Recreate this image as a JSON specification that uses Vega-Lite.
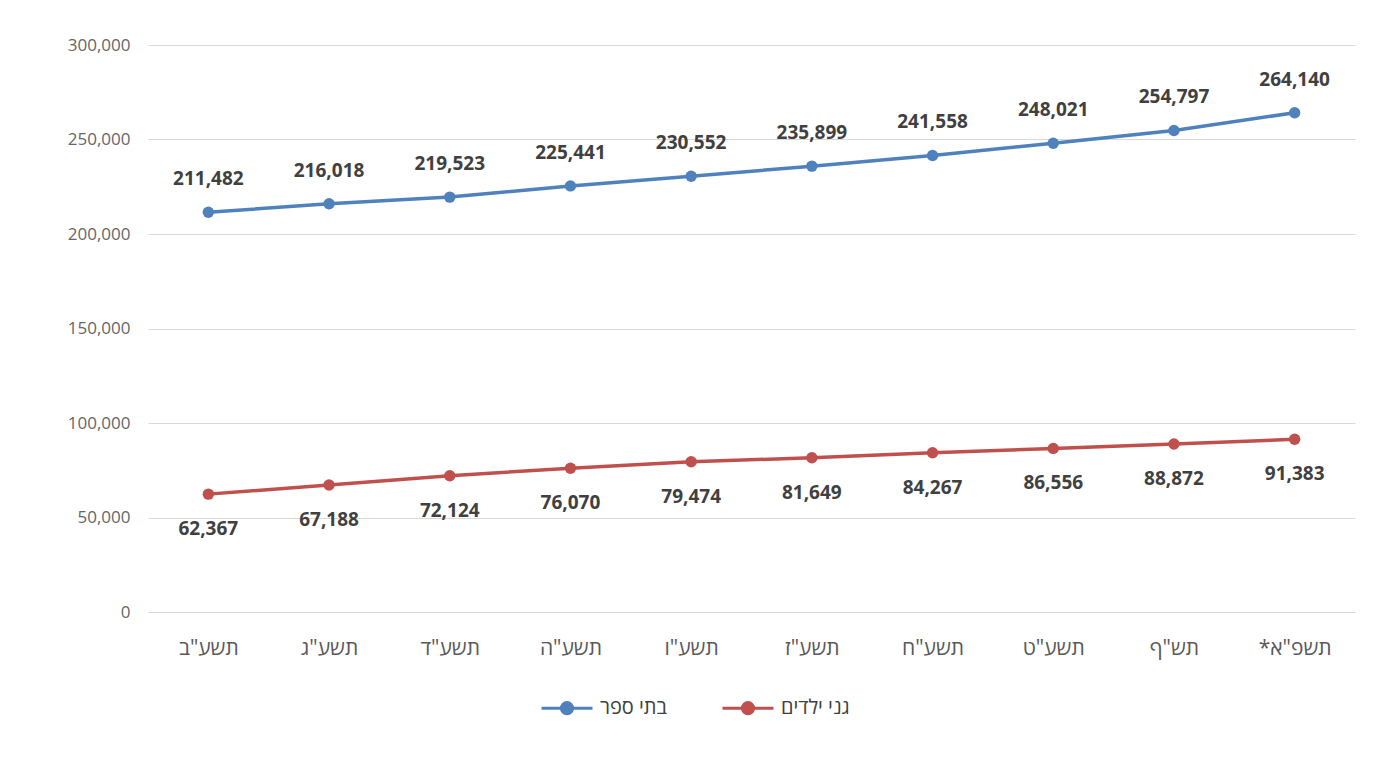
{
  "$schema": "https://vega.github.io/schema/vega-lite/v6.json",
  "width": 1207,
  "height": 567,
  "autosize": {"type": "none"},
  "padding": {"left": 148, "top": 45, "right": 45, "bottom": 147},
  "background": "white",
  "config": {
    "view": {"stroke": null},
    "font": "Open Sans"
  },
  "data": {
    "values": [
      {"year": "תשע\"ב", "series": "בתי ספר", "value": 211482},
      {"year": "תשע\"ג", "series": "בתי ספר", "value": 216018},
      {"year": "תשע\"ד", "series": "בתי ספר", "value": 219523},
      {"year": "תשע\"ה", "series": "בתי ספר", "value": 225441},
      {"year": "תשע\"ו", "series": "בתי ספר", "value": 230552},
      {"year": "תשע\"ז", "series": "בתי ספר", "value": 235899},
      {"year": "תשע\"ח", "series": "בתי ספר", "value": 241558},
      {"year": "תשע\"ט", "series": "בתי ספר", "value": 248021},
      {"year": "תש\"ף", "series": "בתי ספר", "value": 254797},
      {"year": "*תשפ\"א", "series": "בתי ספר", "value": 264140},
      {"year": "תשע\"ב", "series": "גני ילדים", "value": 62367},
      {"year": "תשע\"ג", "series": "גני ילדים", "value": 67188},
      {"year": "תשע\"ד", "series": "גני ילדים", "value": 72124},
      {"year": "תשע\"ה", "series": "גני ילדים", "value": 76070},
      {"year": "תשע\"ו", "series": "גני ילדים", "value": 79474},
      {"year": "תשע\"ז", "series": "גני ילדים", "value": 81649},
      {"year": "תשע\"ח", "series": "גני ילדים", "value": 84267},
      {"year": "תשע\"ט", "series": "גני ילדים", "value": 86556},
      {"year": "תש\"ף", "series": "גני ילדים", "value": 88872},
      {"year": "*תשפ\"א", "series": "גני ילדים", "value": 91383}
    ]
  },
  "encoding": {
    "x": {
      "field": "year",
      "type": "ordinal",
      "sort": ["תשע\"ב", "תשע\"ג", "תשע\"ד", "תשע\"ה", "תשע\"ו", "תשע\"ז", "תשע\"ח", "תשע\"ט", "תש\"ף", "*תשפ\"א"],
      "scale": {"type": "point", "padding": 0.5},
      "axis": {
        "title": null,
        "labelAngle": 0,
        "labelFontSize": 21,
        "labelColor": "#595959",
        "labelPadding": 25,
        "ticks": false,
        "domain": false
      }
    },
    "y": {
      "field": "value",
      "type": "quantitative",
      "scale": {"domain": [0, 300000], "nice": false},
      "axis": {
        "title": null,
        "values": [0, 50000, 100000, 150000, 200000, 250000, 300000],
        "format": ",.0f",
        "labelFontSize": 17,
        "labelColor": "#666666",
        "labelPadding": 18,
        "ticks": false,
        "domain": false,
        "gridColor": "#d9d9d9",
        "gridWidth": 1
      }
    },
    "color": {
      "field": "series",
      "type": "nominal",
      "scale": {"domain": ["בתי ספר", "גני ילדים"], "range": ["#4f81bd", "#c0504d"]},
      "legend": {
        "title": null,
        "orient": "none",
        "legendX": 392,
        "legendY": 636,
        "direction": "horizontal",
        "labelFontSize": 20,
        "labelColor": "#404040",
        "symbolType": "M-1,0L1,0M-0.22,0A0.22,0.22 0 1,0 0.22,0A0.22,0.22 0 1,0 -0.22,0Z",
        "symbolStrokeWidth": 3,
        "symbolSize": 2600,
        "symbolOpacity": 1,
        "columnPadding": 48,
        "labelOffset": 6
      }
    }
  },
  "layer": [
    {"mark": {"type": "line", "strokeWidth": 3.5}},
    {"mark": {"type": "point", "filled": true, "size": 130, "opacity": 1}},
    {
      "transform": [{"filter": "datum.series == 'בתי ספר'"}],
      "mark": {"type": "text", "dy": -33, "fontSize": 19, "fontWeight": "bold", "color": "#404040"},
      "encoding": {"text": {"field": "value", "type": "quantitative", "format": ",.0f"}, "color": {"value": "#404040"}}
    },
    {
      "transform": [{"filter": "datum.series == 'גני ילדים'"}],
      "mark": {"type": "text", "dy": 35, "fontSize": 19, "fontWeight": "bold", "color": "#404040"},
      "encoding": {"text": {"field": "value", "type": "quantitative", "format": ",.0f"}, "color": {"value": "#404040"}}
    }
  ]
}
